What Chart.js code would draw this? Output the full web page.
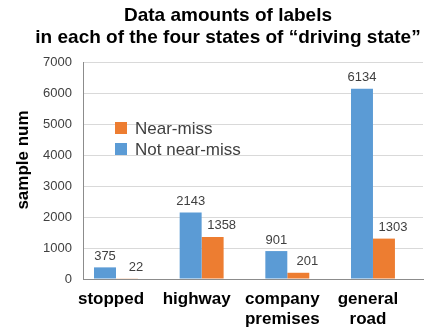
<!DOCTYPE html>
<html>
<head>
<meta charset="utf-8">
<script src="https://cdn.jsdelivr.net/npm/chart.js@4/dist/chart.umd.min.js"></script>
<style>
  body { margin: 0; background: #fff; }
  #wrap { width: 425px; height: 333px; }
</style>
</head>
<body>
<div id="wrap"><canvas id="chart" width="425" height="333"></canvas></div>
<script>
// Chart data
const titleLines = ["Data amounts of labels", "in each of the four states of \u201cdriving state\u201d"];
const yTitle = "sample num";
const categories = [["stopped"], ["highway"], ["company", "premises"], ["general", "road"]];
const notNearMiss = [375, 2143, 901, 6134];
const nearMiss = [22, 1358, 201, 1303];
const yMax = 7000;
const yStep = 1000;

const FONT = '"Liberation Sans", Arial, sans-serif';
const BLUE = "#5b9bd5";
const ORANGE = "#ed7d31";

// draws title, y axis title, legend inside the plot and value labels
const overlay = {
  id: "overlay",
  afterDatasetsDraw(chart) {
    const ctx = chart.ctx;
    ctx.save();

    // value labels above bars
    ctx.font = "13px " + FONT;
    ctx.fillStyle = "#404040";
    ctx.textAlign = "center";
    ctx.textBaseline = "middle";
    chart.data.datasets.forEach((ds, di) => {
      const meta = chart.getDatasetMeta(di);
      meta.data.forEach((bar, i) => {
        const shift = di === 1 ? 9 : 0;
        ctx.fillText(String(ds.data[i].y), bar.x + shift, bar.y - 11);
      });
    });

    // title
    ctx.font = "bold 19px " + FONT;
    ctx.fillStyle = "#000";
    titleLines.forEach((t, i) => ctx.fillText(t, 228, 16 + i * 22));

    // y axis title
    ctx.save();
    ctx.translate(23, 160);
    ctx.rotate(-Math.PI / 2);
    ctx.font = "bold 17px " + FONT;
    ctx.fillText(yTitle, 0, 0);
    ctx.restore();

    // legend (reverse order, like the original)
    ctx.font = "17px " + FONT;
    ctx.textAlign = "left";
    const order = chart.data.datasets.map((d, i) => i).reverse();
    order.forEach((di, k) => {
      const ds = chart.data.datasets[di];
      ctx.fillStyle = ds.backgroundColor;
      ctx.fillRect(115, 122 + k * 21, 12, 12);
      ctx.fillStyle = "#404040";
      ctx.fillText(ds.label, 135, 129 + k * 21);
    });

    ctx.restore();
  }
};

function initChart() {
  const ctx = document.getElementById("chart").getContext("2d");
  return new Chart(ctx, {
    type: "bar",
    data: {
      datasets: [
        { label: "Not near-miss", data: notNearMiss.map((v, i) => ({ x: i, y: v })), backgroundColor: BLUE },
        { label: "Near-miss", data: nearMiss.map((v, i) => ({ x: i, y: v })), backgroundColor: ORANGE }
      ]
    },
    options: {
      responsive: false,
      animation: false,
      events: [],
      layout: { padding: { top: 62, right: 2, left: 0, bottom: 0 } },
      datasets: { bar: { categoryPercentage: 0.513, barPercentage: 1 } },
      plugins: { legend: { display: false }, title: { display: false }, tooltip: { enabled: false } },
      scales: {
        x: {
          type: "linear",
          offset: false,
          min: -0.385,
          max: 3.584,
          grid: { display: false, offset: false },
          border: { display: true, color: "#8c8c8c", width: 1 },
          afterBuildTicks: scale => { scale.ticks = categories.map((c, i) => ({ value: i })); },
          afterFit: scale => { scale.height = 54; },
          ticks: {
            autoSkip: false,
            maxRotation: 0,
            padding: 2,
            labelOffset: -5,
            color: "#000",
            font: { family: FONT, size: 17, weight: "bold" },
            callback: v => categories[v]
          }
        },
        y: {
          min: 0,
          max: yMax,
          grid: { color: "#d9d9d9", drawTicks: false },
          border: { display: true, color: "#8c8c8c", width: 1 },
          afterFit: scale => { scale.width = 83; },
          ticks: {
            stepSize: yStep,
            padding: 11,
            color: "#404040",
            font: { family: FONT, size: 13 },
            callback: v => String(v)
          }
        }
      }
    },
    plugins: [overlay]
  });
}

window.addEventListener("DOMContentLoaded", () => {
  initChart();
});
</script>
</body>
</html>
